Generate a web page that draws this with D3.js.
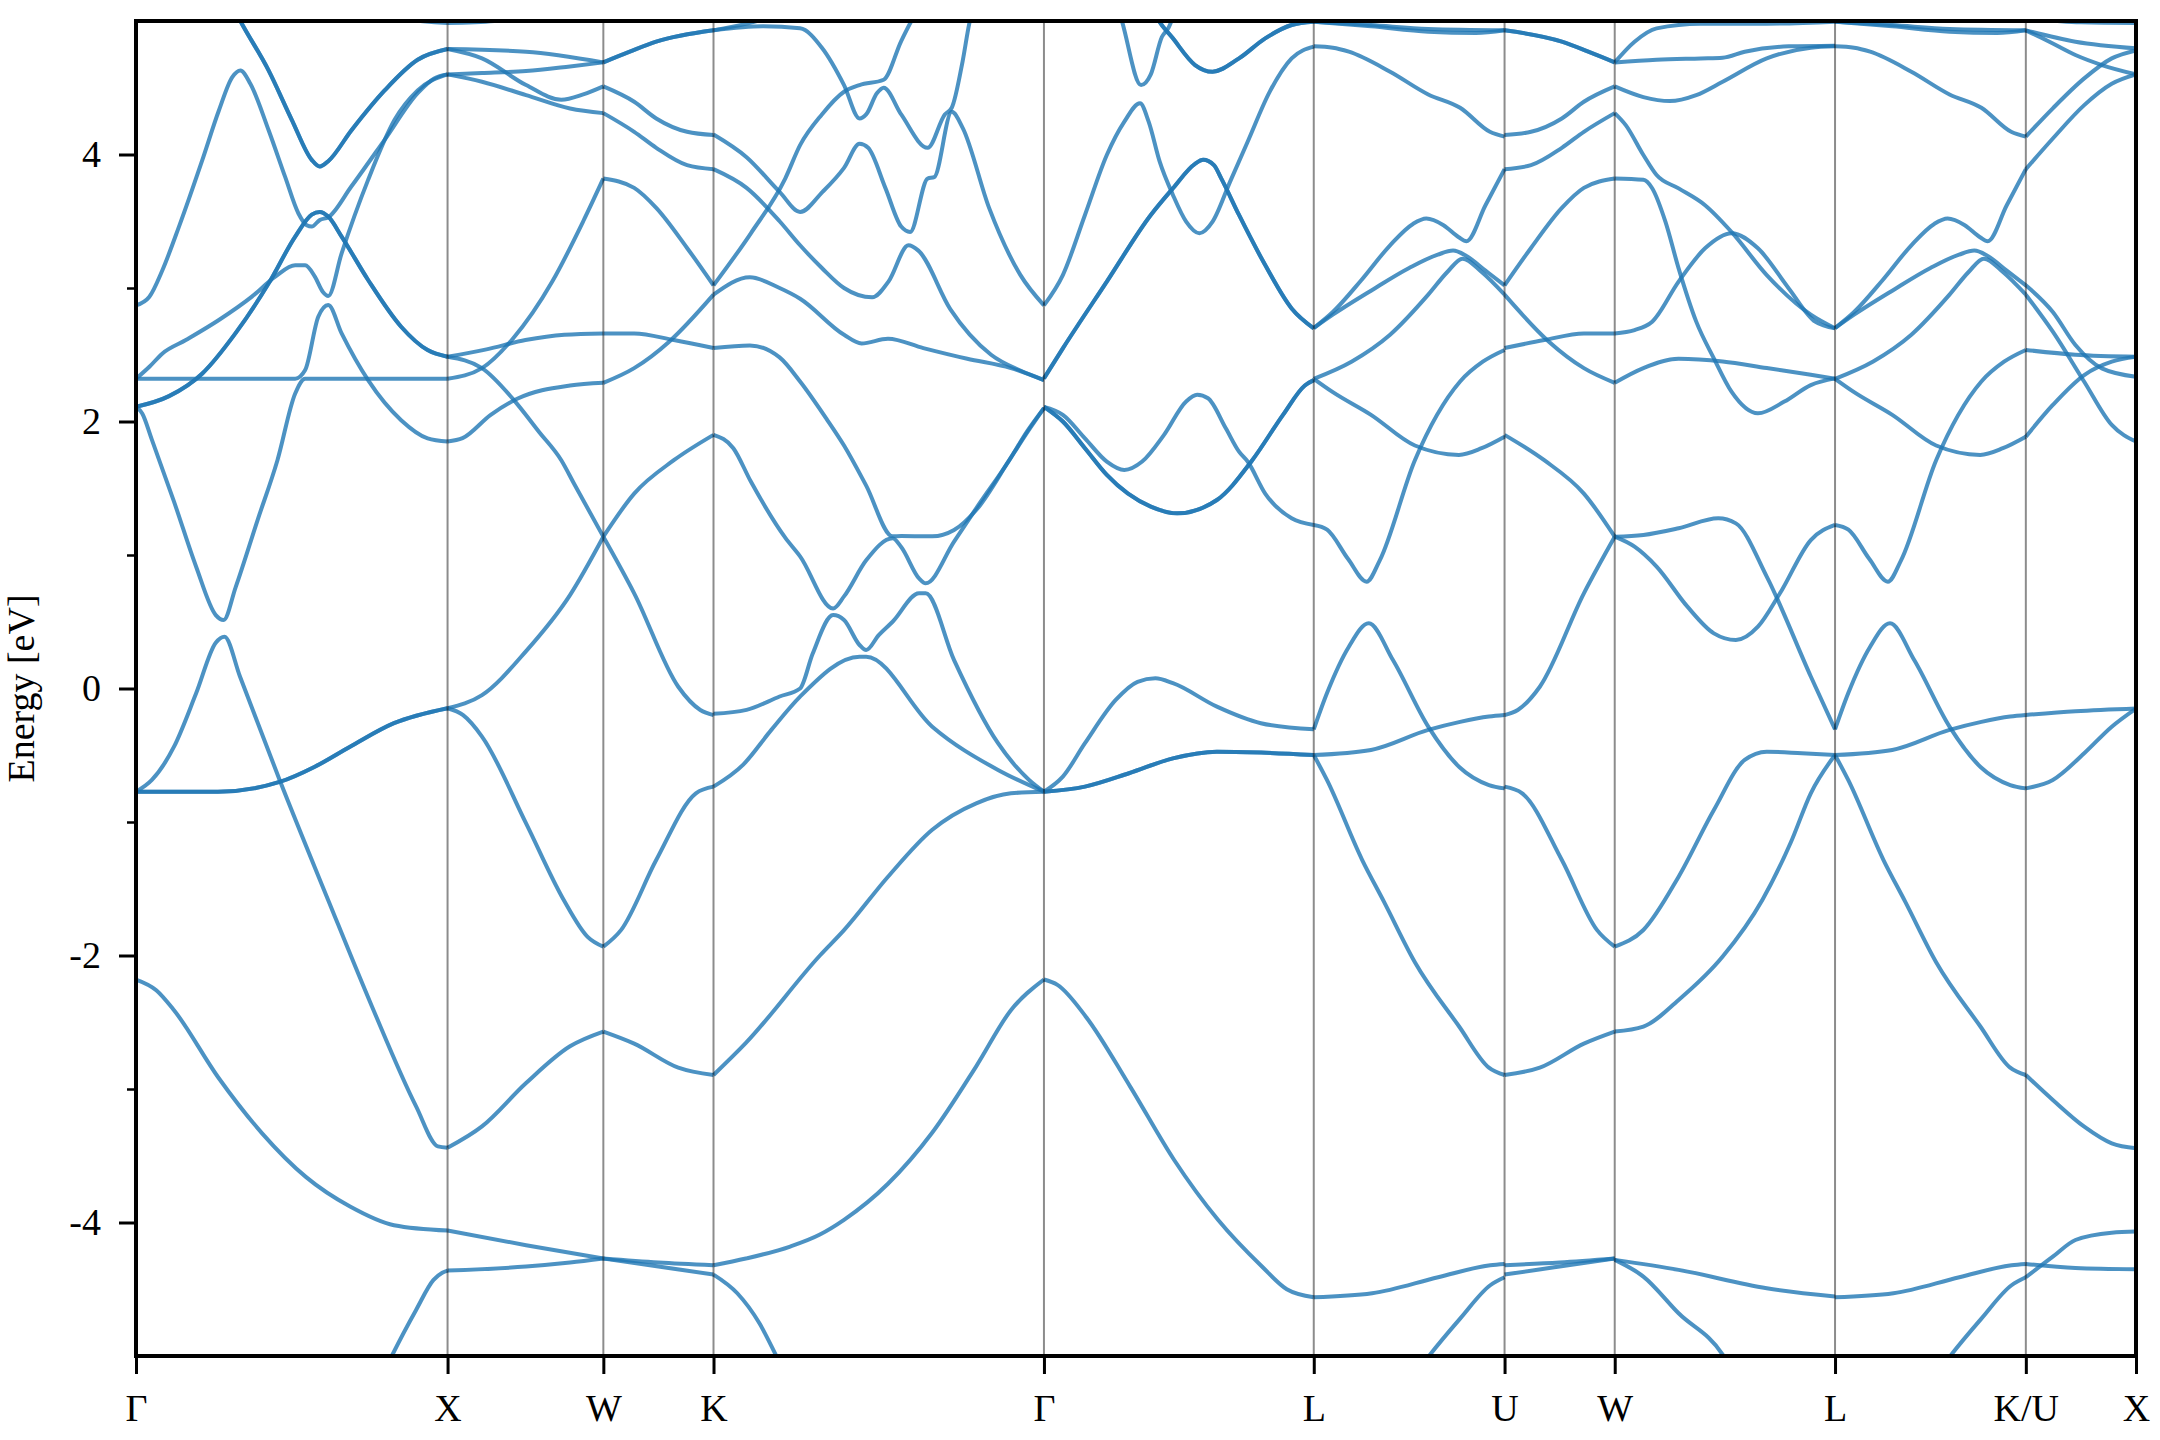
<!DOCTYPE html>
<html><head><meta charset="utf-8">
<script src="https://cdn.jsdelivr.net/npm/d3@7"></script>
<style>body{margin:0;background:#fff}text{font-family:"Liberation Serif","Times New Roman",serif}</style>
</head><body>
<script>
// ---------- DATA ----------
const kLabels = ["Γ","X","W","K","Γ","L","U","W","L","K/U","X"];
const kNodes  = [0,1,1.5,1.8536,2.9142,3.7802,4.3926,4.7462,5.4533,6.0657,6.4193];
const yMajor = [-4,-2,0,2,4];
const yMinor = [-3,-1,1,3];

// each band: [fraction along segment, energy eV]
const bandsGX = [
 [[0.28,5.25],[0.335,5.0],[0.4255,4.63],[0.50,4.26],[0.564,3.96],[0.59,3.91],[0.617,3.95],[0.691,4.18],[0.798,4.48],[0.904,4.71],[1,4.79]],
 [[0.28,5.25],[0.335,5.0],[0.4255,4.63],[0.50,4.26],[0.564,3.96],[0.59,3.91],[0.617,3.95],[0.691,4.18],[0.798,4.48],[0.904,4.71],[1,4.79]],
 [[0,2.87],[0.043,2.935],[0.085,3.135],[0.138,3.46],[0.213,3.96],[0.266,4.33],[0.309,4.58],[0.335,4.63],[0.367,4.53],[0.426,4.18],[0.479,3.83],[0.521,3.56],[0.548,3.47],[0.564,3.46],[0.59,3.51],[0.617,3.53],[0.691,3.76],[0.798,4.11],[0.904,4.46],[0.957,4.57],[1,4.60]],
 [[0,2.11],[0.106,2.19],[0.213,2.36],[0.319,2.66],[0.426,3.035],[0.511,3.385],[0.564,3.55],[0.59,3.57],[0.617,3.535],[0.66,3.385],[0.745,3.06],[0.851,2.71],[0.936,2.535],[1,2.485]],
 [[0,2.11],[0.106,2.19],[0.213,2.36],[0.319,2.66],[0.426,3.035],[0.511,3.385],[0.564,3.55],[0.59,3.57],[0.617,3.535],[0.66,3.385],[0.745,3.06],[0.851,2.71],[0.936,2.535],[1,2.485]],
 [[0,2.32],[0.043,2.41],[0.085,2.51],[0.16,2.61],[0.266,2.76],[0.372,2.935],[0.447,3.085],[0.511,3.17],[0.543,3.17],[0.574,3.085],[0.60,2.97],[0.617,2.94],[0.66,3.26],[0.745,3.81],[0.83,4.26],[0.904,4.48],[1,4.60]],
 [[0,2.32],[0.511,2.32],[0.543,2.385],[0.585,2.785],[0.617,2.873],[0.66,2.66],[0.745,2.31],[0.851,2.01],[0.936,1.874],[1,1.85]],
 [[0,2.11],[0.02,2.06],[0.05,1.87],[0.122,1.40],[0.193,0.912],[0.256,0.55],[0.281,0.513],[0.32,0.76],[0.39,1.26],[0.454,1.71],[0.511,2.21],[0.543,2.32],[1,2.32]],
 [[0,-0.773],[0.051,-0.685],[0.122,-0.436],[0.193,-0.036],[0.256,0.343],[0.284,0.388],[0.334,0.088],[0.461,-0.685],[0.616,-1.58],[0.757,-2.38],[0.899,-3.13],[0.969,-3.43],[1,-3.44]],
 [[0,-0.773],[0.263,-0.773],[0.461,-0.70],[0.574,-0.586],[0.687,-0.436],[0.828,-0.26],[1,-0.148]],
 [[0,-0.773],[0.263,-0.773],[0.461,-0.70],[0.574,-0.586],[0.687,-0.436],[0.828,-0.26],[1,-0.148]],
 [[0,-2.18],[0.065,-2.26],[0.122,-2.41],[0.263,-2.91],[0.404,-3.33],[0.546,-3.66],[0.687,-3.88],[0.828,-4.02],[1,-4.06]],
 [[0.78,-5.2],[0.821,-5.0],[0.899,-4.655],[0.955,-4.43],[0.983,-4.376],[1,-4.36]],
 [[0.75,5.1],[0.85,5.02],[1,4.985]]
];
const bandsXW = [
 [[0,4.79],[0.504,4.77],[1,4.69]],
 [[0,4.79],[0.221,4.72],[0.504,4.52],[0.73,4.41],[0.871,4.45],[1,4.51]],
 [[0,4.60],[0.221,4.61],[0.504,4.625],[0.786,4.66],[1,4.69]],
 [[0,4.60],[0.221,4.545],[0.504,4.445],[0.786,4.345],[1,4.31]],
 [[0,2.485],[0.25,2.54],[0.5,2.61],[0.75,2.65],[1,2.66]],
 [[0,2.485],[0.221,2.40],[0.419,2.17],[0.589,1.92],[0.73,1.71],[0.814,1.53],[1,1.137]],
 [[0,2.32],[0.221,2.40],[0.419,2.62],[0.673,3.05],[0.871,3.50],[1,3.82]],
 [[0,1.85],[0.096,1.875],[0.277,2.05],[0.447,2.17],[0.786,2.27],[1,2.29]],
 [[0,-0.148],[0.221,-0.05],[0.504,0.28],[0.786,0.70],[1,1.137]],
 [[0,-0.148],[0.1,-0.2],[0.221,-0.36],[0.504,-1.01],[0.744,-1.58],[0.899,-1.86],[1,-1.934]],
 [[0,-3.44],[0.221,-3.28],[0.504,-2.955],[0.786,-2.68],[1,-2.57]],
 [[0,-4.06],[0.504,-4.17],[1,-4.27]],
 [[0,-4.36],[0.504,-4.33],[0.786,-4.30],[1,-4.27]],
 [[0,4.985],[0.3,5.0],[0.6,5.08]]
];
const bandsWK = [
 [[0,4.69],[0.24,4.77],[0.48,4.845],[1,4.93]],
 [[0,4.69],[0.24,4.77],[0.48,4.845],[1,4.93]],
 [[0,4.51],[0.28,4.395],[0.48,4.27],[0.76,4.17],[1,4.146]],
 [[0,4.31],[0.28,4.17],[0.48,4.05],[0.76,3.92],[1,3.89]],
 [[0,3.82],[0.28,3.75],[0.48,3.60],[0.76,3.30],[1,3.02]],
 [[0,2.66],[0.28,2.66],[0.64,2.61],[1,2.55]],
 [[0,2.29],[0.28,2.40],[0.6,2.60],[1,2.95]],
 [[0,1.137],[0.28,1.46],[0.64,1.71],[1,1.90]],
 [[0,1.137],[0.28,0.713],[0.68,0.013],[0.88,-0.161],[1,-0.199]],
 [[0,-1.934],[0.16,-1.81],[0.48,-1.285],[0.84,-0.785],[1,-0.735]],
 [[0,-2.57],[0.28,-2.66],[0.68,-2.84],[1,-2.895]],
 [[0,-4.27],[0.5,-4.30],[1,-4.32]],
 [[0,-4.27],[0.5,-4.33],[1,-4.39]]
];
const bandsKG = [
 [[0,-4.32],[0.098,-4.27],[0.232,-4.18],[0.322,-4.09],[0.395,-3.98],[0.528,-3.71],[0.661,-3.33],[0.795,-2.83],[0.90,-2.41],[1,-2.18]],
 [[0,-4.39],[0.072,-4.53],[0.139,-4.755],[0.19,-5.0],[0.22,-5.15]],
 [[0,-2.895],[0.098,-2.655],[0.322,-2.0],[0.395,-1.81],[0.528,-1.41],[0.661,-1.06],[0.795,-0.86],[0.90,-0.785],[1,-0.773]],
 [[0,1.90],[0.06,1.80],[0.113,1.55],[0.217,1.13],[0.262,0.99],[0.362,0.60],[0.395,0.69],[0.462,0.96],[0.542,1.125],[0.568,1.06],[0.622,0.825],[0.642,0.788],[0.728,1.10],[0.795,1.35],[0.895,1.71],[0.95,1.93],[1,2.10]],
 [[0,-0.19],[0.1,-0.16],[0.2,-0.06],[0.262,0.0],[0.3,0.26],[0.362,0.55],[0.395,0.513],[0.442,0.326],[0.462,0.288],[0.50,0.40],[0.542,0.50],[0.622,0.713],[0.642,0.713],[0.728,0.213],[0.861,-0.41],[0.955,-0.685],[1,-0.773]],
 [[0,-0.735],[0.09,-0.57],[0.175,-0.31],[0.262,-0.061],[0.442,0.238],[0.462,0.238],[0.662,-0.286],[0.861,-0.61],[1,-0.773]],
 [[0,2.55],[0.11,2.57],[0.2,2.48],[0.262,2.30],[0.342,2.02],[0.395,1.82],[0.462,1.52],[0.542,1.14],[0.568,1.142],[0.662,1.14],[0.728,1.187],[0.795,1.337],[0.895,1.71],[0.95,1.92],[1,2.10]],
 [[0,2.95],[0.11,3.08],[0.2,3.0],[0.262,2.92],[0.395,2.65],[0.448,2.585],[0.528,2.62],[0.635,2.55],[0.768,2.47],[0.9,2.40],[1,2.31]],
 [[0,3.02],[0.113,3.41],[0.217,3.82],[0.262,4.07],[0.328,4.3],[0.395,4.47],[0.442,4.52],[0.515,4.56],[0.568,4.85],[0.61,5.05],[0.65,5.2]],
 [[0,4.15],[0.1,3.98],[0.2,3.72],[0.262,3.57],[0.33,3.72],[0.395,3.9],[0.442,4.08],[0.468,4.05],[0.52,3.75],[0.568,3.46],[0.595,3.42],[0.648,3.82],[0.668,3.83],[0.721,4.32],[0.754,4.2],[0.834,3.6],[0.928,3.1],[1,2.87]],
 [[0,3.89],[0.1,3.75],[0.2,3.5],[0.262,3.32],[0.328,3.15],[0.395,3.0],[0.48,2.93],[0.53,3.05],[0.59,3.32],[0.62,3.28],[0.717,2.84],[0.84,2.50],[0.93,2.38],[1,2.31]],
 [[0,4.93],[0.15,4.96],[0.262,4.945],[0.328,4.8],[0.395,4.52],[0.442,4.27],[0.462,4.3],[0.495,4.46],[0.515,4.5],[0.568,4.3],[0.648,4.05],[0.7,4.3],[0.721,4.35],[0.754,4.7],[0.774,4.98],[0.8,5.2]],
 [[0,4.93],[0.1,4.98],[0.2,5.05]]
];
const bandsGL = [
 [[0,-0.773],[0.152,-0.735],[0.315,-0.635],[0.478,-0.523],[0.641,-0.473],[0.804,-0.48],[1,-0.498]],
 [[0,-0.773],[0.152,-0.735],[0.315,-0.635],[0.478,-0.523],[0.641,-0.473],[0.804,-0.48],[1,-0.498]],
 [[0,-0.773],[0.07,-0.66],[0.152,-0.41],[0.266,-0.086],[0.347,0.05],[0.413,0.076],[0.478,0.04],[0.641,-0.136],[0.804,-0.26],[1,-0.306]],
 [[0,-2.18],[0.05,-2.22],[0.156,-2.46],[0.319,-2.98],[0.482,-3.53],[0.645,-3.98],[0.808,-4.33],[0.9,-4.5],[1,-4.56]],
 [[0,2.11],[0.07,2.05],[0.152,1.874],[0.233,1.70],[0.298,1.637],[0.364,1.70],[0.445,1.90],[0.527,2.15],[0.568,2.20],[0.608,2.174],[0.674,1.949],[0.723,1.774],[0.755,1.70],[0.82,1.46],[0.918,1.275],[1,1.225]],
 [[0,2.11],[0.07,2.0],[0.152,1.80],[0.233,1.60],[0.396,1.362],[0.494,1.312],[0.641,1.412],[0.772,1.71],[0.886,2.05],[0.967,2.27],[1,2.31]],
 [[0,2.11],[0.07,2.0],[0.152,1.80],[0.233,1.60],[0.396,1.362],[0.494,1.312],[0.641,1.412],[0.772,1.71],[0.886,2.05],[0.967,2.27],[1,2.31]],
 [[0,2.87],[0.07,3.097],[0.152,3.547],[0.233,3.996],[0.298,4.246],[0.356,4.383],[0.388,4.246],[0.429,3.946],[0.478,3.697],[0.527,3.497],[0.576,3.41],[0.625,3.497],[0.69,3.797],[0.755,4.096],[0.837,4.471],[0.918,4.72],[1,4.808]],
 [[0,2.323],[0.07,2.548],[0.233,3.048],[0.396,3.547],[0.478,3.747],[0.56,3.93],[0.59,3.96],[0.63,3.92],[0.657,3.821],[0.723,3.547],[0.82,3.172],[0.918,2.847],[1,2.698]],
 [[0,2.323],[0.07,2.548],[0.233,3.048],[0.396,3.547],[0.478,3.747],[0.56,3.93],[0.59,3.96],[0.63,3.92],[0.657,3.821],[0.723,3.547],[0.82,3.172],[0.918,2.847],[1,2.698]],
 [[0.25,5.2],[0.282,5.045],[0.36,4.52],[0.396,4.60],[0.437,4.88],[0.462,4.95],[0.49,5.1]],
 [[0.38,5.2],[0.413,5.045],[0.478,4.87],[0.56,4.67],[0.625,4.62],[0.723,4.72],[0.82,4.87],[0.918,4.97],[1,4.995]],
 [[0.38,5.2],[0.413,5.045],[0.478,4.87],[0.56,4.67],[0.625,4.62],[0.723,4.72],[0.82,4.87],[0.918,4.97],[1,4.995]]
];
const bandsLU = [
 [[0,4.995],[0.3,4.96],[0.6,4.92],[0.85,4.91],[1,4.93]],
 [[0,4.995],[0.3,4.97],[0.6,4.94],[1,4.93]],
 [[0,4.81],[0.1,4.80],[0.184,4.77],[0.4,4.62],[0.6,4.45],[0.767,4.35],[0.923,4.17],[1,4.134]],
 [[0,2.70],[0.1,2.82],[0.25,3.06],[0.4,3.32],[0.52,3.48],[0.59,3.52],[0.68,3.47],[0.76,3.38],[0.80,3.35],[0.9,3.62],[1,3.89]],
 [[0,2.70],[0.1,2.80],[0.3,2.98],[0.5,3.15],[0.65,3.25],[0.73,3.28],[0.8,3.24],[0.9,3.13],[1,3.02]],
 [[0,2.32],[0.2,2.45],[0.4,2.65],[0.6,2.95],[0.7,3.12],[0.78,3.22],[0.88,3.12],[1,2.95]],
 [[0,2.32],[0.1,2.22],[0.3,2.05],[0.53,1.82],[0.761,1.75],[0.88,1.80],[1,1.886]],
 [[0,1.225],[0.07,1.19],[0.18,0.97],[0.277,0.80],[0.346,0.96],[0.53,1.71],[0.767,2.30],[0.886,2.448],[1,2.536]],
 [[0,-0.306],[0.069,-0.036],[0.184,0.313],[0.288,0.488],[0.415,0.213],[0.6,-0.286],[0.764,-0.59],[0.918,-0.723],[1,-0.748]],
 [[0,-0.498],[0.3,-0.46],[0.6,-0.31],[0.767,-0.25],[0.918,-0.21],[1,-0.198]],
 [[0,-0.498],[0.069,-0.685],[0.254,-1.285],[0.369,-1.6],[0.53,-2.05],[0.761,-2.53],[0.918,-2.84],[1,-2.895]],
 [[0,-4.56],[0.306,-4.53],[0.652,-4.41],[0.925,-4.32],[1,-4.31]],
 [[0.5,-5.2],[0.604,-5.0],[0.767,-4.72],[0.925,-4.47],[1,-4.41]]
];
const bandsWL = [
 [[0,4.69],[0.09,4.845],[0.19,4.945],[0.39,4.98],[0.69,4.98],[1,4.995]],
 [[0,4.69],[0.19,4.71],[0.39,4.72],[0.49,4.725],[0.59,4.77],[0.79,4.81],[1,4.815]],
 [[0,4.51],[0.13,4.43],[0.25,4.40],[0.37,4.445],[0.49,4.545],[0.69,4.72],[0.89,4.80],[1,4.81]],
 [[0,4.31],[0.05,4.22],[0.13,3.996],[0.19,3.846],[0.29,3.746],[0.41,3.62],[0.53,3.42],[0.69,3.097],[0.89,2.80],[1,2.698]],
 [[0,3.82],[0.13,3.81],[0.17,3.747],[0.23,3.497],[0.29,3.147],[0.37,2.748],[0.45,2.473],[0.53,2.223],[0.65,2.061],[0.77,2.149],[0.89,2.273],[1,2.323]],
 [[0,2.66],[0.09,2.685],[0.17,2.748],[0.29,3.048],[0.41,3.297],[0.53,3.41],[0.65,3.297],[0.79,2.997],[0.91,2.748],[1,2.698]],
 [[0,2.29],[0.13,2.40],[0.29,2.47],[0.49,2.45],[0.69,2.40],[0.89,2.35],[1,2.32]],
 [[0,1.137],[0.13,1.15],[0.29,1.20],[0.47,1.275],[0.55,1.237],[0.69,0.838],[0.89,0.09],[1,-0.306]],
 [[0,1.137],[0.09,1.062],[0.19,0.913],[0.33,0.613],[0.45,0.413],[0.55,0.363],[0.65,0.463],[0.75,0.713],[0.89,1.112],[1,1.225]],
 [[0,-1.934],[0.13,-1.809],[0.29,-1.41],[0.45,-0.91],[0.59,-0.535],[0.69,-0.473],[0.85,-0.485],[1,-0.498]],
 [[0,-2.57],[0.13,-2.533],[0.29,-2.333],[0.49,-2.008],[0.67,-1.584],[0.8,-1.15],[0.89,-0.785],[1,-0.498]],
 [[0,-4.28],[0.29,-4.355],[0.69,-4.493],[1,-4.555]],
 [[0,-4.28],[0.13,-4.405],[0.29,-4.68],[0.49,-4.99],[0.53,-5.1]]
];
const bandsUX = [
 [[0,4.93],[0.45,4.845],[1,4.795]],
 [[0,4.93],[0.2,4.85],[0.45,4.745],[0.69,4.67],[1,4.60]],
 [[0,4.134],[0.245,4.346],[0.53,4.57],[0.78,4.72],[1,4.78]],
 [[0,3.89],[0.245,4.12],[0.53,4.37],[0.78,4.53],[1,4.60]],
 [[0,3.02],[0.245,2.82],[0.45,2.573],[0.69,2.398],[1,2.336]],
 [[0,2.95],[0.245,2.673],[0.53,2.298],[0.78,1.974],[1,1.85]],
 [[0,2.536],[0.45,2.50],[1,2.485]],
 [[0,1.886],[0.245,2.124],[0.53,2.348],[0.78,2.448],[1,2.485]],
 [[0,-0.198],[0.45,-0.17],[1,-0.149]],
 [[0,-0.748],[0.245,-0.685],[0.53,-0.485],[0.78,-0.286],[1,-0.15]],
 [[0,-2.895],[0.245,-3.082],[0.53,-3.282],[0.78,-3.407],[1,-3.444]],
 [[0,-4.31],[0.45,-4.34],[1,-4.35]],
 [[0,-4.41],[0.245,-4.256],[0.45,-4.131],[0.78,-4.076],[1,-4.068]],
 [[0,5.02],[0.5,4.99],[1,4.985]]
];
// U->W is the same symmetry line as W->K, traversed backwards; L->K equals L->U
const bandsUW = bandsWK.map(b => b.map(([f,e]) => [1-f,e]).reverse());
const bandsLK = bandsLU;
const segments = [
 [0,1,bandsGX],[1,2,bandsXW],[2,3,bandsWK],[3,4,bandsKG],[4,5,bandsGL],
 [5,6,bandsLU],[6,7,bandsUW],[7,8,bandsWL],[8,9,bandsLK],[9,10,bandsUX]
];

// ---------- DRAW ----------
const W = 2160, H = 1440;
const m = {l:136, r:24, t:21, b:84};
const svg = d3.select("body").append("svg").attr("width",W).attr("height",H);
const x = d3.scaleLinear().domain([kNodes[0], kNodes[kNodes.length-1]]).range([m.l, W-m.r]);
const y = d3.scaleLinear().domain([-5,5]).range([H-m.b, m.t]);

svg.append("clipPath").attr("id","clip").append("rect")
  .attr("x",x.range()[0]).attr("y",y(5)).attr("width",x.range()[1]-x.range()[0]).attr("height",y(-5)-y(5));

const g = svg.append("g").attr("clip-path","url(#clip)");
segments.forEach(([i0,i1,bands]) => {
  const k0 = kNodes[i0], k1 = kNodes[i1];
  const line = d3.line().x(d => x(k0 + d[0]*(k1-k0))).y(d => y(d[1])).curve(d3.curveMonotoneX);
  bands.forEach(b => {
    g.append("path").attr("d", line(b)).attr("fill","none")
     .attr("stroke","#1f77b4").attr("stroke-opacity",0.8).attr("stroke-width",4)
     .attr("stroke-linejoin","round").attr("stroke-linecap","butt");
  });
});

// vertical lines at high-symmetry points
svg.append("g").selectAll("line").data(kNodes.slice(1,-1)).join("line")
  .attr("x1",d=>x(d)).attr("x2",d=>x(d)).attr("y1",y(5)).attr("y2",y(-5))
  .attr("stroke","#000").attr("stroke-opacity",0.45).attr("stroke-width",2);

// y axis
const yAxis = d3.axisLeft(y).tickValues(yMajor).tickFormat(d => String(d)).tickSize(17).tickPadding(18);
const ya = svg.append("g").attr("transform",`translate(${m.l},0)`).call(yAxis);
ya.select(".domain").remove();
ya.selectAll(".tick line").attr("stroke","#000").attr("stroke-width",3);
ya.selectAll(".tick text").attr("font-size",38).attr("fill","#000")
  .style("font-family","'Liberation Serif', serif");
const yMin = d3.axisLeft(y).tickValues(yMinor).tickFormat("").tickSize(9);
const ym = svg.append("g").attr("transform",`translate(${m.l},0)`).call(yMin);
ym.select(".domain").remove();
ym.selectAll(".tick line").attr("stroke","#000").attr("stroke-width",2.5);

// x axis
const xAxis = d3.axisBottom(x).tickValues(kNodes).tickFormat((d,i)=>kLabels[i]).tickSize(18).tickPadding(20);
const xa = svg.append("g").attr("transform",`translate(0,${H-m.b})`).call(xAxis);
xa.select(".domain").remove();
xa.selectAll(".tick line").attr("stroke","#000").attr("stroke-width",3);
xa.selectAll(".tick text").attr("font-size",38).attr("fill","#000")
  .style("font-family","'Liberation Serif', serif");

// frame
svg.append("rect").attr("x",x.range()[0]).attr("y",y(5))
  .attr("width",x.range()[1]-x.range()[0]).attr("height",y(-5)-y(5))
  .attr("fill","none").attr("stroke","#000").attr("stroke-width",4);

// y label
svg.append("text").attr("transform",`translate(34,${y(0)}) rotate(-90)`)
  .attr("text-anchor","middle").attr("font-size",38).attr("fill","#000").text("Energy [eV]");
</script>
</body></html>
